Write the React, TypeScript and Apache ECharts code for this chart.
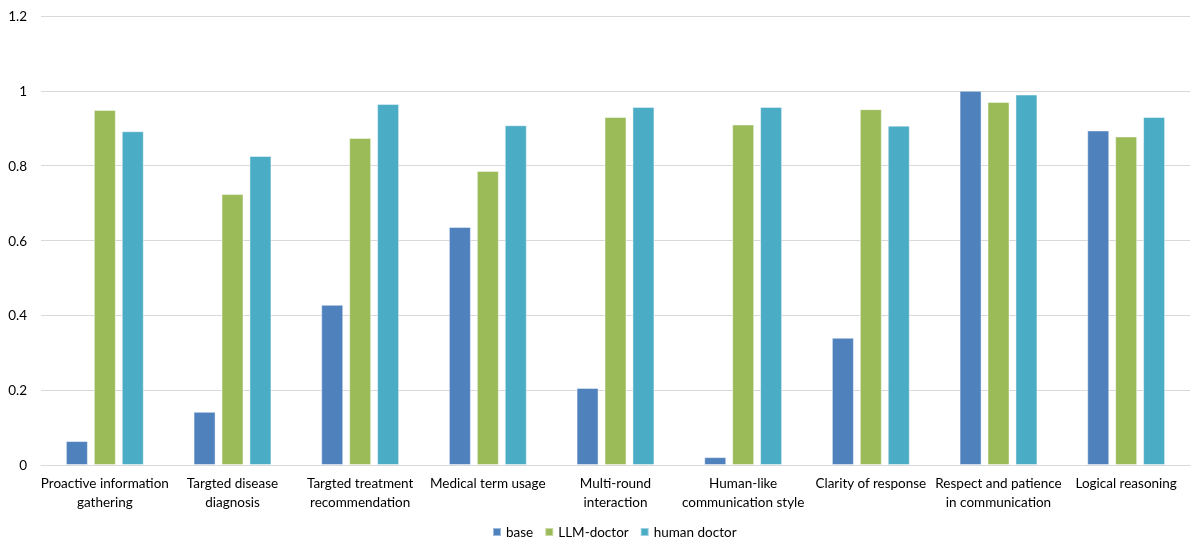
import React, { useEffect, useRef } from "react";
import * as echarts from "echarts";

const categories = [
  "Proactive information\ngathering",
  "Targted disease\ndiagnosis",
  "Targted treatment\nrecommendation",
  "Medical term usage",
  "Multi-round\ninteraction",
  "Human-like\ncommunication style",
  "Clarity of response",
  "Respect and patience\nin communication",
  "Logical reasoning",
];

const baseValues = [0.064, 0.142, 0.428, 0.636, 0.206, 0.021, 0.34, 1.0, 0.894];
const llmDoctorValues = [0.949, 0.724, 0.874, 0.786, 0.93, 0.91, 0.951, 0.97, 0.878];
const humanDoctorValues = [0.892, 0.826, 0.965, 0.908, 0.957, 0.957, 0.907, 0.99, 0.93];

const seriesNames = ["base", "LLM-doctor", "human doctor"];
const colors = ["#4F81BD", "#9BBB59", "#4BACC6"];

export default function App() {
  const ref = useRef<HTMLDivElement>(null);
  useEffect(() => {
    if (!ref.current) return;
    const chart = echarts.init(ref.current, null, { renderer: "svg" });
    const font = "Lato, 'Open Sans', sans-serif";
    const mk = (name: string, data: number[], color: string) => ({
      name,
      type: "bar",
      data,
      barWidth: 22,
      barGap: "27%",
      itemStyle: { color, borderColor: "rgba(255,255,255,0.45)", borderWidth: 1 },
    });
    chart.setOption({
      animation: false,
      textStyle: { fontFamily: font },
      grid: { left: 41, right: 9, top: 16, bottom: 75, containLabel: false },
      legend: {
        top: 520,
        left: 487,
        icon: "rect",
        itemWidth: 8,
        itemHeight: 8,
        itemGap: 11,
        textStyle: { fontSize: 13.5, color: "#000", fontFamily: font },
        data: seriesNames,
      },
      xAxis: {
        type: "category",
        data: categories,
        axisLine: { lineStyle: { color: "#d9d9d9", width: 1 } },
        axisTick: { show: false },
        axisLabel: {
          interval: 0,
          color: "#000",
          fontSize: 13.5,
          lineHeight: 19,
          margin: 8,
          fontFamily: font,
        },
      },
      yAxis: {
        type: "value",
        min: 0,
        max: 1.2,
        interval: 0.2,
        axisLine: { show: false },
        axisTick: { show: false },
        splitLine: { lineStyle: { color: "#d9d9d9", width: 1 } },
        axisLabel: { color: "#000", fontSize: 13.5, margin: 14, fontFamily: font },
      },
      series: [
        mk(seriesNames[0], baseValues, colors[0]),
        mk(seriesNames[1], llmDoctorValues, colors[1]),
        mk(seriesNames[2], humanDoctorValues, colors[2]),
      ],
    });
    return () => chart.dispose();
  }, []);
  return (
    <div
      ref={ref}
      style={{ position: "fixed", top: 0, left: 0, width: 1199, height: 540 }}
    />
  );
}
